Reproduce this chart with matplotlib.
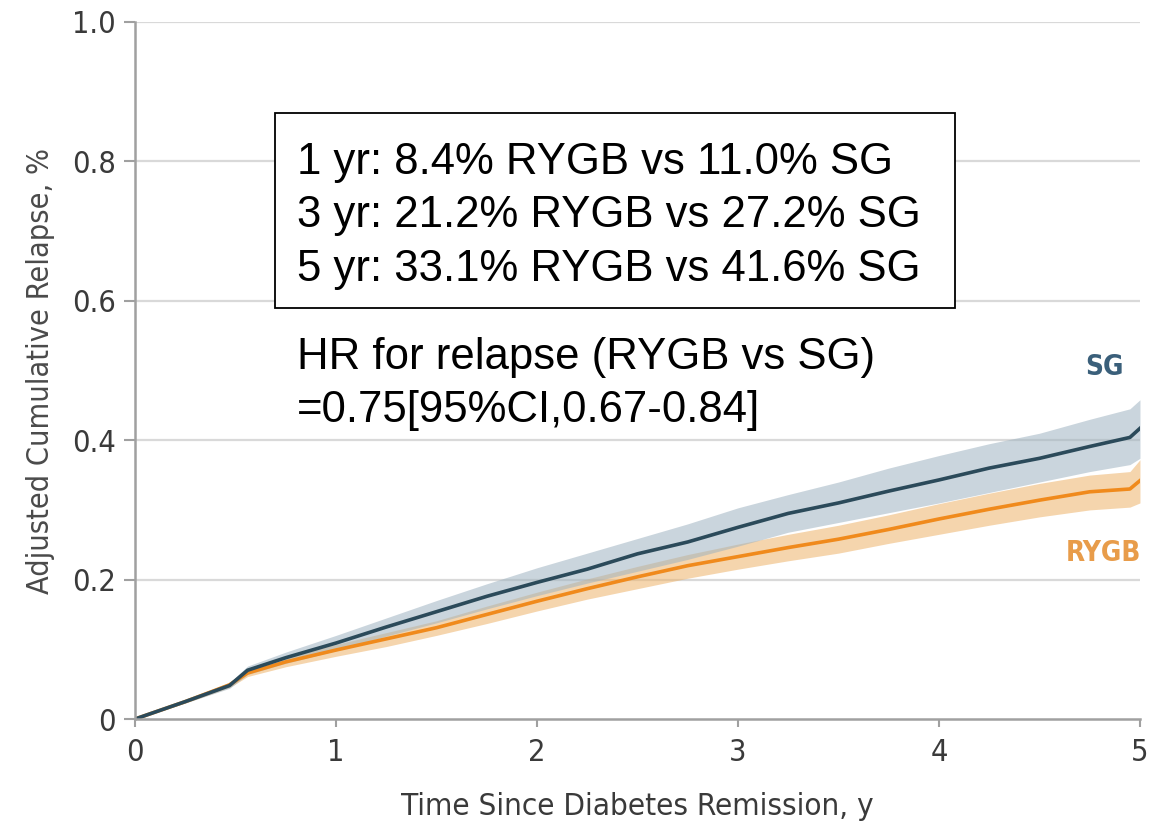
import matplotlib.pyplot as plt
from matplotlib.patches import Rectangle
import numpy as np

# years since remission
t = [0, 0.25, 0.47, 0.56, 0.75, 1.0, 1.25, 1.5, 1.75, 2.0, 2.25, 2.5,
     2.75, 3.0, 3.25, 3.5, 3.75, 4.0, 4.25, 4.5, 4.75, 4.95, 5.0]

# SG curve + band
sg = [0, 0.025, 0.048, 0.070, 0.088, 0.109, 0.132, 0.154, 0.176, 0.196, 0.215, 0.237,
      0.254, 0.275, 0.295, 0.310, 0.327, 0.343, 0.360, 0.374, 0.391, 0.404, 0.417]
sg_hi = [0, 0.027, 0.052, 0.076, 0.096, 0.120, 0.145, 0.170, 0.194, 0.217, 0.238, 0.259,
         0.280, 0.303, 0.322, 0.340, 0.360, 0.378, 0.395, 0.410, 0.430, 0.445, 0.458]
sg_lo = [0, 0.023, 0.044, 0.064, 0.080, 0.098, 0.119, 0.138, 0.158, 0.177, 0.195, 0.212,
         0.229, 0.248, 0.268, 0.282, 0.296, 0.310, 0.325, 0.340, 0.355, 0.365, 0.374]

# RYGB curve + band
rygb = [0, 0.025, 0.049, 0.066, 0.082, 0.099, 0.115, 0.131, 0.150, 0.169, 0.187, 0.204,
        0.220, 0.233, 0.246, 0.258, 0.272, 0.287, 0.301, 0.314, 0.326, 0.330, 0.342]
rygb_hi = [0, 0.027, 0.053, 0.071, 0.089, 0.107, 0.124, 0.141, 0.162, 0.182, 0.201, 0.219,
           0.236, 0.251, 0.265, 0.278, 0.293, 0.309, 0.324, 0.338, 0.350, 0.355, 0.372]
rygb_lo = [0, 0.023, 0.045, 0.061, 0.075, 0.090, 0.104, 0.120, 0.137, 0.155, 0.172, 0.187,
           0.202, 0.215, 0.227, 0.238, 0.252, 0.265, 0.278, 0.290, 0.300, 0.304, 0.310]

y_ticks = [0, 0.2, 0.4, 0.6, 0.8, 1.0]
y_labels = ["0", "0.2", "0.4", "0.6", "0.8", "1.0"]
x_ticks = [0, 1, 2, 3, 4, 5]

box_lines = ["1 yr: 8.4% RYGB vs 11.0% SG",
             "3 yr: 21.2% RYGB vs 27.2% SG",
             "5 yr: 33.1% RYGB vs 41.6% SG"]
hr_lines = ["HR for relapse (RYGB vs SG)", "=0.75[95%CI,0.67-0.84]"]

AX_FONT = dict(family="DejaVu Sans", stretch="condensed")
TXT_FONT = ["Liberation Sans", "DejaVu Sans"]

fig = plt.figure(figsize=(11.65, 8.26), dpi=100)
ax = fig.add_axes([0.1159, 0.1295, 0.8626, 0.8439])

ax.fill_between(t, rygb_lo, rygb_hi, color="#eeb36a", alpha=0.55, lw=0)
ax.fill_between(t, sg_lo, sg_hi, color="#9fb3c1", alpha=0.55, lw=0)
ax.plot(t, rygb, color="#f08a1c", lw=2.6)
ax.plot(t, sg, color="#2b4a5a", lw=2.6)

ax.set_xlim(0, 5)
ax.set_ylim(0, 1.0)
ax.set_yticks(y_ticks)
ax.set_yticklabels(y_labels)
ax.set_xticks(x_ticks)

for y in y_ticks[1:]:
    ax.axhline(y, color="#d9d9d9", lw=1.6, zorder=0)

for s in ["top", "right"]:
    ax.spines[s].set_visible(False)
for s in ["left", "bottom"]:
    ax.spines[s].set_color("#a0a0a0")
    ax.spines[s].set_linewidth(1.8)
ax.tick_params(axis="y", length=8, width=1.5, color="#a0a0a0", pad=6)
ax.tick_params(axis="x", length=6, width=1.5, color="#a0a0a0", pad=8)
for lab in ax.get_xticklabels() + ax.get_yticklabels():
    lab.set_family(AX_FONT["family"])
    lab.set_stretch(AX_FONT["stretch"])
    lab.set_fontsize(22)
    lab.set_color("#3a3a3a")

ax.set_xlabel("Time Since Diabetes Remission, y", fontsize=22.5,
              color="#3a3a3a", labelpad=18, **AX_FONT)
ax.set_ylabel("Adjusted Cumulative Relapse, %", fontsize=22,
              color="#4a4a4a", labelpad=12, **AX_FONT)

ax.text(4.826, 0.505, "SG", fontsize=20, color="#3a5f7a",
        fontweight="bold", ha="center", va="center", **AX_FONT)
ax.text(4.816, 0.238, "RYGB", fontsize=20, color="#e89c4a",
        fontweight="bold", ha="center", va="center", **AX_FONT)

# annotation box (axes fraction)
ax.add_patch(Rectangle((0.1393, 0.5897), 0.8160 - 0.1393, 0.8694 - 0.5897,
                       transform=ax.transAxes, fc="white", ec="black", lw=1.3, zorder=5))
for txt, yy in zip(box_lines + hr_lines, [0.799, 0.723, 0.645, 0.519, 0.443]):
    ax.text(0.1612, yy, txt, transform=ax.transAxes, family=TXT_FONT, fontsize=31.5,
            color="black", ha="left", va="center", zorder=6)

fig.savefig("out.png", dpi=100)
